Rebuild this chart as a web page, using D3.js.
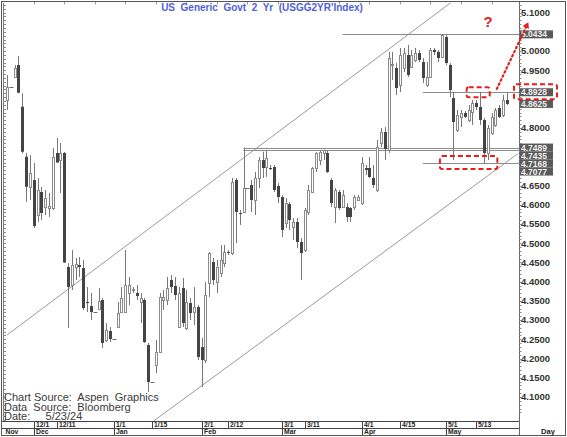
<!DOCTYPE html>
<html><head><meta charset="utf-8">
<script src="https://cdn.jsdelivr.net/npm/d3@7"></script>
<style>body{margin:0;background:#fff}svg{display:block}text{font-family:Arial,"Liberation Sans",sans-serif}</style>
</head><body><svg id="c" width="567" height="437"></svg>
<script>
// ---------- DATA ----------
const dates = [
"2023-11-22","2023-11-23","2023-11-24","2023-11-27","2023-11-28","2023-11-29","2023-11-30",
"2023-12-01","2023-12-04","2023-12-05","2023-12-06","2023-12-07","2023-12-08","2023-12-11","2023-12-12","2023-12-13","2023-12-14","2023-12-15","2023-12-18","2023-12-19","2023-12-20","2023-12-21","2023-12-22","2023-12-25","2023-12-26","2023-12-27","2023-12-28","2023-12-29",
"2024-01-01","2024-01-02","2024-01-03","2024-01-04","2024-01-05","2024-01-08","2024-01-09","2024-01-10","2024-01-11","2024-01-12","2024-01-15","2024-01-16","2024-01-17","2024-01-18","2024-01-19","2024-01-22","2024-01-23","2024-01-24","2024-01-25","2024-01-26","2024-01-29","2024-01-30","2024-01-31",
"2024-02-01","2024-02-02","2024-02-05","2024-02-06","2024-02-07","2024-02-08","2024-02-09","2024-02-12","2024-02-13","2024-02-14","2024-02-15","2024-02-16","2024-02-19","2024-02-20","2024-02-21","2024-02-22","2024-02-23","2024-02-26","2024-02-27","2024-02-28","2024-02-29",
"2024-03-01","2024-03-04","2024-03-05","2024-03-06","2024-03-07","2024-03-08","2024-03-11","2024-03-12","2024-03-13","2024-03-14","2024-03-15","2024-03-18","2024-03-19","2024-03-20","2024-03-21","2024-03-22","2024-03-25","2024-03-26","2024-03-27","2024-03-28","2024-03-29",
"2024-04-01","2024-04-02","2024-04-03","2024-04-04","2024-04-05","2024-04-08","2024-04-09","2024-04-10","2024-04-11","2024-04-12","2024-04-15","2024-04-16","2024-04-17","2024-04-18","2024-04-19","2024-04-22","2024-04-23","2024-04-24","2024-04-25","2024-04-26","2024-04-29","2024-04-30",
"2024-05-01","2024-05-02","2024-05-03","2024-05-06","2024-05-07","2024-05-08","2024-05-09","2024-05-10","2024-05-13","2024-05-14","2024-05-15","2024-05-16","2024-05-17","2024-05-20","2024-05-21","2024-05-22","2024-05-23"];

const open = [
4.8726,4.9072,4.9332,4.9636,4.8552,4.7251,4.6463,4.6645,4.5734,4.6333,
4.5942,4.5916,4.5916,4.7347,4.7165,4.7347,4.4381,4.3913,4.4381,4.4433,
4.4355,4.3471,4.3366,4.3210,4.3288,4.3523,4.2482,4.2716,4.2508,4.2820,
4.3210,4.3210,4.3705,4.3783,4.3705,4.3471,4.3523,4.2352,4.1389,4.1832,
4.2170,4.3523,4.3523,4.4043,4.3887,4.2820,4.3835,4.2794,4.3444,4.3210,
4.3340,4.2300,4.1962,4.3965,4.4511,4.3991,4.4225,4.4485,4.4771,4.4745,
4.6645,4.5786,4.5812,4.6437,4.6515,4.6124,4.6697,4.7165,4.6983,4.6957,
4.6983,4.6489,4.6202,4.5526,4.6020,4.5422,4.5552,4.5031,4.4823,4.5812,
4.6333,4.6957,4.7165,4.7347,4.7347,4.6645,4.5942,4.6333,4.5942,4.5942,
4.5916,4.5942,4.6124,4.6046,4.6957,4.6957,4.6697,4.6385,4.7607,4.7893,
4.7425,4.9636,4.9558,4.9116,4.9558,4.9897,4.9584,4.9767,4.9949,4.9715,
4.9116,4.9324,5.0027,4.9975,4.9845,5.0365,4.9636,4.8778,4.7945,4.8284,
4.8388,4.8206,4.8414,4.8648,4.8544,4.8206,4.7347,4.7867,4.8076,4.8518,
4.8336,4.8726];
const high = [
4.9376,4.9072,4.9636,4.9871,4.8900,4.7347,4.7295,4.7087,4.6697,4.6463,
4.6385,4.6307,4.7477,4.7737,4.7607,4.7373,4.4485,4.4823,4.4615,4.4641,
4.4563,4.3861,4.3705,4.3210,4.3835,4.3575,4.2924,4.2820,4.2508,4.3471,
4.3861,4.4823,4.4121,4.3861,4.3913,4.3705,4.3575,4.2404,4.1389,4.2482,
4.3705,4.3783,4.4121,4.4173,4.4121,4.3861,4.4095,4.3783,4.3575,4.3861,
4.3392,4.2534,4.3991,4.4771,4.4615,4.4563,4.4953,4.4953,4.4823,4.6697,
4.6697,4.5864,4.7489,4.6437,4.6645,4.6853,4.7243,4.7380,4.7400,4.7035,
4.7035,4.6567,4.6254,4.6176,4.6072,4.5656,4.5656,4.5135,4.5916,4.6515,
4.6983,4.7373,4.7400,4.7435,4.7425,4.6697,4.6437,4.6385,4.6385,4.6046,
4.5942,4.6254,4.6254,4.7243,4.7035,4.7243,4.7035,4.7685,4.7998,4.8024,
4.9975,4.9975,4.9689,5.0079,5.0079,5.0157,5.0027,5.0079,5.0027,4.9819,
4.9715,5.0079,5.0079,5.0027,5.0434,5.0417,4.9689,4.8934,4.8466,4.8466,
4.8440,4.8596,4.8726,4.8726,4.8928,4.8258,4.8076,4.8388,4.8518,4.8596,
4.8856,4.8908];
const low = [
4.8466,4.9072,4.9298,4.8900,4.7339,4.6080,4.6124,4.5396,4.5552,4.5604,
4.5734,4.5682,4.5864,4.7087,4.6307,4.4485,4.2794,4.3783,4.4043,4.4121,
4.3262,4.3210,4.3002,4.3210,4.3262,4.2274,4.2430,4.2430,4.2508,4.2800,
4.3184,4.3184,4.3392,4.3705,4.3523,4.2924,4.2404,4.1129,4.1389,4.1623,
4.2144,4.3262,4.3392,4.3705,4.3523,4.2794,4.2820,4.2742,4.3002,4.2872,
4.1962,4.1259,4.1884,4.3601,4.3913,4.3705,4.4121,4.4381,4.4693,4.4693,
4.5005,4.5474,4.5786,4.6437,4.5812,4.5734,4.6437,4.6697,4.6723,4.6905,
4.6333,4.6046,4.5161,4.5396,4.5344,4.5083,4.4875,4.4043,4.4771,4.5734,
4.6307,4.6853,4.7035,4.7165,4.6827,4.5942,4.5526,4.5864,4.5916,4.5552,
4.5552,4.5864,4.6124,4.5994,4.6775,4.6697,4.6437,4.6333,4.7503,4.7165,
4.7347,4.9246,4.8856,4.8934,4.9454,4.9324,4.9558,4.9715,4.9715,4.9168,
4.9064,4.9298,4.9897,4.9715,4.9819,4.9636,4.8804,4.7168,4.7893,4.8024,
4.8258,4.8154,4.8076,4.8466,4.8076,4.7077,4.7165,4.7815,4.8024,4.8258,
4.8284,4.8596];
const close = [
4.9072,4.9072,4.9558,4.8916,4.7381,4.6470,4.6827,4.5448,4.6385,4.5786,
4.6176,4.5968,4.7243,4.7100,4.7347,4.4500,4.3861,4.4433,4.4459,4.4381,
4.3314,4.3460,4.3210,4.3210,4.3497,4.2404,4.2742,4.2508,4.2508,4.3184,
4.3575,4.3913,4.3913,4.3809,4.3627,4.3575,4.2430,4.1389,4.1389,4.2170,
4.3601,4.3601,4.3835,4.3861,4.3653,4.3705,4.2924,4.3471,4.3184,4.3340,
4.2040,4.1962,4.3653,4.4745,4.4043,4.4381,4.4563,4.4771,4.4745,4.6593,
4.5812,4.5776,4.6437,4.6437,4.6124,4.6697,4.7165,4.6957,4.7217,4.6950,
4.6385,4.6202,4.5344,4.6046,4.5604,4.5552,4.5031,4.4745,4.5864,4.6385,
4.6957,4.7347,4.7373,4.7425,4.6853,4.6046,4.6385,4.5916,4.6254,4.5682,
4.5682,4.6202,4.6202,4.7087,4.6905,4.6723,4.6515,4.7503,4.7893,4.7451,
4.9819,4.9662,4.9038,4.9897,4.9949,4.9376,4.9897,4.9949,4.9767,4.9298,
4.9324,5.0027,4.9975,4.9819,5.0417,4.9689,4.8986,4.8154,4.8336,4.8388,
4.8284,4.8466,4.8648,4.8544,4.8206,4.7347,4.7998,4.8284,4.8466,4.8284,
4.8726,4.8625];

const yTickValues = [4.10,4.15,4.20,4.25,4.30,4.35,4.40,4.45,4.50,4.55,4.60,4.65,4.70,4.75,4.80,4.85,4.90,4.95,5.00,5.05,5.10];
const dayTickDates  = ["2023-12-01","2023-12-11","2024-01-01","2024-01-15","2024-02-01","2024-02-12","2024-03-01","2024-03-11","2024-04-01","2024-04-15","2024-05-01","2024-05-13"];
const dayTickLabels = ["12/1","12/11","1/1","1/15","2/1","2/12","3/1","3/11","4/1","4/15","5/1","5/13"];
const monthTickDates  = ["2023-11-20","2023-12-01","2024-01-01","2024-02-01","2024-03-01","2024-04-01","2024-05-01"];
const monthTickLabels = ["Nov","Dec","Jan","Feb","Mar","Apr","May"];

// price levels marked on the right axis, and where their horizontal lines start
const levelValues = [5.0434, 4.8928, 4.8625, 4.7489, 4.7435, 4.7168, 4.7077];
const levelStart  = ["2024-03-25","2024-04-23",null,"2024-02-16","2024-02-16",null,"2024-04-23"];

// channel lines (date, yield) end points
const upperChannel = [["2023-11-22",4.2612],["2024-05-06",5.1384]];
const lowerChannel = [["2024-01-15",4.0344],["2024-05-28",4.7337]];

const titleText = "US  Generic  Govt  2  Yr  (USGG2YR'Index)";
const sourceLines = ["Chart Source:  Aspen  Graphics","Data  Source:  Bloomberg","Date:     5/23/24"];

// ---------- SCALES ----------
const base = Date.UTC(2023,10,20);
function wIdx(s){const t=Date.parse(s+"T00:00:00Z");const d=Math.round((t-base)/864e5);return Math.floor(d/7)*5+Math.min(d%7,5);}
const x = d3.scaleLinear().domain([wIdx("2023-11-22"), wIdx("2024-05-23")]).range([7, 506.8]);
const y = d3.scaleLinear().domain([4.1, 5.1]).range([397, 12.6]);
const P = {l:3, t:3, r:519, b:421};

const svg = d3.select("#c");
svg.append("defs").append("clipPath").attr("id","clip")
  .append("rect").attr("x",P.l).attr("y",P.t).attr("width",P.r-P.l).attr("height",P.b-P.t);

// frame
svg.append("rect").attr("x",1.5).attr("y",1.5).attr("width",564).attr("height",434)
  .attr("fill","none").attr("stroke","#555");

const g = svg.append("g").attr("clip-path","url(#clip)");

// channel lines
const chan = d3.line().x(p=>x(wIdx(p[0]))).y(p=>y(p[1]));
[upperChannel, lowerChannel].forEach(c=>{
  g.append("path").attr("d",chan(c)).attr("fill","none").attr("stroke","#9a9a9a").attr("stroke-width",1);
});

// level lines
levelValues.forEach((v,i)=>{
  if(!levelStart[i]) return;
  const yy = Math.round(y(v))+0.5;
  g.append("line").attr("x1",x(wIdx(levelStart[i]))).attr("x2",P.r).attr("y1",yy).attr("y2",yy)
   .attr("stroke","#8c8c8c").attr("stroke-width",1);
});

// candles
const data = dates.map((d,i)=>({i:wIdx(d), o:open[i], h:high[i], l:low[i], c:close[i]}));
const cg = g.append("g");
data.forEach(d=>{
  const cx = Math.round(x(d.i));
  cg.append("line").attr("x1",cx+0.5).attr("x2",cx+0.5).attr("y1",y(d.h)).attr("y2",y(d.l))
    .attr("stroke","#777").attr("stroke-width",1);
  const top = y(Math.max(d.o,d.c)), bot = y(Math.min(d.o,d.c));
  const h = Math.max(1, bot-top);
  if (d.c >= d.o && d.h !== d.l) {
    cg.append("rect").attr("x",cx-0.5).attr("y",Math.round(top)+0.5).attr("width",2).attr("height",Math.max(1,Math.round(h)))
      .attr("fill","#fff").attr("stroke","#8a8a8a").attr("stroke-width",1);
  } else if (d.h === d.l) {
    cg.append("rect").attr("x",cx-1.5).attr("y",Math.round(top)).attr("width",4).attr("height",1).attr("fill","#666");
  } else {
    cg.append("rect").attr("x",cx-1).attr("y",top).attr("width",3).attr("height",h).attr("fill","#444");
  }
});

// left ruler
svg.append("line").attr("x1",3.5).attr("x2",3.5).attr("y1",P.t).attr("y2",P.b).attr("stroke","#777");
d3.range(4.03,5.13,0.01).forEach(v=>{
  const yy=Math.round(y(v))+0.5; if(yy<P.t||yy>P.b) return;
  svg.append("line").attr("x1",3).attr("x2",6).attr("y1",yy).attr("y2",yy).attr("stroke","#888");
});
// top ticks
d3.range(9,137,8).forEach(i=>{
  const xx=Math.round(x(i))+0.5;
  svg.append("line").attr("x1",xx).attr("x2",xx).attr("y1",2).attr("y2",4.5).attr("stroke","#999");
});

// right axis
svg.append("line").attr("x1",P.r+0.5).attr("x2",P.r+0.5).attr("y1",2).attr("y2",435).attr("stroke","#666");
d3.range(4.03,5.13,0.01).forEach(v=>{
  const yy=Math.round(y(v))+0.5; if(yy<P.t||yy>P.b-8) return;
  svg.append("line").attr("x1",P.r).attr("x2",P.r+2.5).attr("y1",yy).attr("y2",yy).attr("stroke","#888");
});
const fmt = d3.format(".4f");

// level label boxes (stacked so they do not overlap)
let lastY = -100;
const levelPos = [];
levelValues.forEach(v=>{
  let yy = y(v); if (yy < lastY + 8) yy = lastY + 8; lastY = yy; levelPos.push(yy);
});
// axis tick labels, leaving out those hidden behind the level boxes
const shownTicks = yTickValues.filter(v=>levelPos.every(p=>Math.abs(y(v)-p) > 5.5));
svg.append("g").selectAll("text").data(shownTicks).join("text")
  .attr("x",P.r+2).attr("y",v=>y(v)).attr("dy","0.35em")
  .attr("font-size",9.5).attr("font-weight","bold").attr("fill","#333").text(fmt);
const lg = svg.append("g");
levelValues.forEach((v,i)=>{
  const yy = levelPos[i];
  lg.append("rect").attr("x",P.r+1).attr("y",yy-4).attr("width",33).attr("height",8).attr("fill","#5a5a5a");
  lg.append("text").attr("x",P.r+2).attr("y",yy).attr("dy","0.35em").attr("font-size",8.5).attr("font-weight","bold")
    .attr("fill","#f0f0f0").text(fmt(v));
});

// title
svg.append("text").attr("x",262).attr("y",11).attr("text-anchor","middle").attr("font-size",10).attr("font-weight","bold")
  .attr("fill","#4f5fdc").style("white-space","pre").text(titleText);

// annotations (red)
const red = "#e3201b";
function dBox(i0,i1,v0,v1,pad){
  const x0=x(i0)-pad, x1=x(i1)+pad, y0=y(v0), y1=y(v1);
  svg.append("rect").attr("x",x0).attr("y",y0).attr("width",x1-x0).attr("height",y1-y0).attr("rx",2)
    .attr("fill","none").attr("stroke",red).attr("stroke-width",2).attr("stroke-dasharray","5,3");
}
dBox(wIdx("2024-05-09"),wIdx("2024-05-16"),4.906,4.880,2);
dBox(wIdx("2024-04-30"),wIdx("2024-05-20"),4.727,4.693,2);
// box around the 4.8928 label
svg.append("rect").attr("x",P.r-5).attr("y",levelPos[1]-8).attr("width",43).attr("height",15).attr("rx",2)
  .attr("fill","none").attr("stroke",red).attr("stroke-width",2).attr("stroke-dasharray","5,3");
// dotted arrow
const a0=[x(130.4),y(4.9016)], a1=[x(138.3),y(5.068)];
svg.append("line").attr("x1",a0[0]).attr("y1",a0[1]).attr("x2",a1[0]).attr("y2",a1[1])
  .attr("stroke",red).attr("stroke-width",2.2).attr("stroke-dasharray","1.5,3").attr("stroke-linecap","round");
const ang = Math.atan2(a1[1]-a0[1], a1[0]-a0[0]);
const ah = 6, aw = 3.5;
const tip=[a1[0]+Math.cos(ang)*3, a1[1]+Math.sin(ang)*3];
const bx=tip[0]-Math.cos(ang)*ah, by=tip[1]-Math.sin(ang)*ah;
svg.append("path").attr("d",`M${tip[0]},${tip[1]}L${bx+Math.sin(ang)*aw},${by-Math.cos(ang)*aw}L${bx-Math.sin(ang)*aw},${by+Math.cos(ang)*aw}Z`).attr("fill",red);
svg.append("text").attr("x",x(128.1)).attr("y",y(5.08)+7).attr("text-anchor","middle").attr("font-size",15)
  .attr("font-weight","bold").attr("fill",red).text("?");

// source text
svg.append("g").selectAll("text").data(sourceLines).join("text")
  .attr("x",4).attr("y",(d,i)=>401+i*9.6).attr("font-size",11).attr("fill","#3a3a3a")
  .style("white-space","pre").text(d=>d);

// date band
const band = svg.append("g");
[421.5,428.5].forEach(yy=>band.append("line").attr("x1",2).attr("x2",P.r).attr("y1",yy).attr("y2",yy).attr("stroke","#444"));
dayTickDates.forEach((d,i)=>{
  const xx=Math.round(x(wIdx(d)))+0.5;
  band.append("line").attr("x1",xx).attr("x2",xx).attr("y1",421).attr("y2",428).attr("stroke","#444");
  band.append("text").attr("x",xx+1.5).attr("y",427.3).attr("font-size",6.8).attr("font-weight","bold").attr("fill","#222").text(dayTickLabels[i]);
});
monthTickDates.forEach((d,i)=>{
  const xx=Math.max(P.l, Math.round(x(wIdx(d))))+0.5;
  if(i>0) band.append("line").attr("x1",xx).attr("x2",xx).attr("y1",428).attr("y2",435).attr("stroke","#444");
  band.append("text").attr("x",xx+ (i===0?2:1.5)).attr("y",434.3).attr("font-size",6.8).attr("font-weight","bold").attr("fill","#222").text(monthTickLabels[i]);
});
svg.append("text").attr("x",548).attr("y",433.5).attr("text-anchor","middle").attr("font-size",7.5).attr("font-weight","bold").attr("fill","#222").text("Day");
</script></body></html>
